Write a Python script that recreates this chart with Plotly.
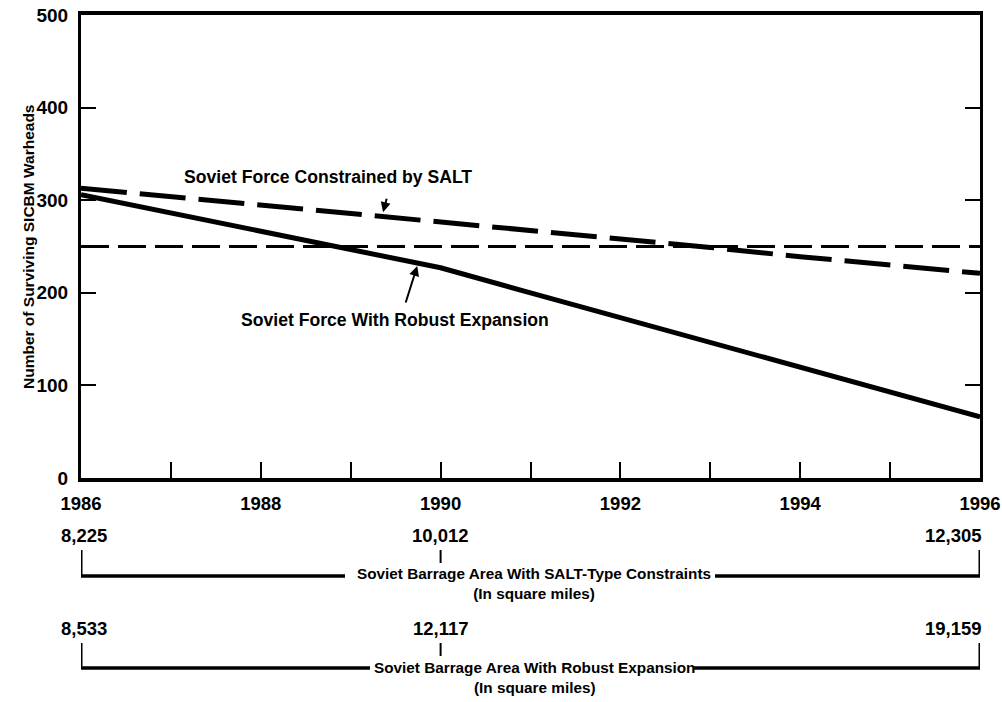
import plotly.graph_objects as go

# ---------------- data ----------------
years = [1986, 1987, 1988, 1989, 1990, 1991, 1992, 1993, 1994, 1995, 1996]
salt_force = [313, 304, 295, 285, 276, 267, 258, 249, 239, 230, 221]
robust_force = [306, 286, 267, 247, 227, 200, 173, 147, 120, 93, 66]
threshold = 250

x_tick_years = list(range(1986, 1997))
x_tick_labels = [str(y) if y % 2 == 0 else "" for y in x_tick_years]
y_tick_vals = [0, 100, 200, 300, 400, 500]

area_years = [1986, 1990, 1996]
salt_area = [8225, 10012, 12305]
robust_area = [8533, 12117, 19159]

label_salt = "Soviet Force Constrained by SALT"
label_robust = "Soviet Force With Robust Expansion"
area_label_salt = "Soviet Barrage Area With SALT-Type Constraints"
area_label_robust = "Soviet Barrage Area With Robust Expansion"
unit_label = "(In square miles)"
y_title = "Number of Surviving SICBM Warheads"

# ---------------- style ----------------
FONT = "Liberation Sans, Arial, Helvetica, sans-serif"
INK = "#000000"

W, H = 1002, 702
L, R, T, B = 81, 22, 15, 224
PLOT_H = H - T - B


def py(pix):
    """pixel row -> paper y"""
    return (H - B - pix) / PLOT_H


def px(pix):
    return (pix - L) / (W - L - R)


def year_at(pix):
    return 1986 + (pix - L) / (W - L - R) * 10


def bold(size):
    return dict(family=FONT, size=size, color=INK, weight="bold")


fig = go.Figure()

fig.add_trace(go.Scatter(
    x=[years[0], years[-1]], y=[threshold, threshold], mode="lines",
    line=dict(color=INK, width=3, dash="28px,9px"), hoverinfo="skip", showlegend=False))
fig.add_trace(go.Scatter(
    x=years, y=salt_force, mode="lines",
    line=dict(color=INK, width=5, dash="46px,13px"), showlegend=False))
fig.add_trace(go.Scatter(
    x=years, y=robust_force, mode="lines",
    line=dict(color=INK, width=5), showlegend=False))

annotations = []
# line labels
annotations.append(dict(x=1988.75, y=325, xref="x", yref="y", text=label_salt,
                        showarrow=False, font=bold(17.6)))
annotations.append(dict(x=1989.49, y=171, xref="x", yref="y", text=label_robust,
                        showarrow=False, font=bold(17.6)))
# arrows
annotations.append(dict(x=1989.36, y=287, xref="x", yref="y", text="", showarrow=True,
                        ax=4, ay=-15, arrowhead=2, arrowsize=1, arrowwidth=2, arrowcolor=INK))
annotations.append(dict(x=1989.74, y=229, xref="x", yref="y", text="", showarrow=True,
                        ax=-12, ay=38, arrowhead=2, arrowsize=1, arrowwidth=2, arrowcolor=INK))
# y title
annotations.append(dict(x=px(18), y=250, xref="paper", yref="y", text=y_title, textangle=-90,
                        showarrow=False, font=bold(15.5)))

shapes = []


def bracket(values, row_num, row_top, row_bot, mid_bot, text_row, label, gap_l, gap_r):
    for i, (yr, v) in enumerate(zip(area_years, values)):
        anchor = "center"
        xshift = 0
        if i == 0:
            xshift = 3
        if i == len(values) - 1:
            anchor = "right"
            xshift = 4
        annotations.append(dict(x=yr, y=py(row_num), xref="x", yref="paper", text=f"{v:,}",
                                xanchor=anchor, yanchor="middle", xshift=xshift, showarrow=False,
                                font=bold(18.5)))
    # verticals
    for yr, bottom, wdt in [(area_years[0], row_bot, 3), (area_years[-1], row_bot, 3),
                            (area_years[1], mid_bot, 2)]:
        shapes.append(dict(type="line", xref="x", yref="paper", x0=yr, x1=yr,
                           y0=py(row_top), y1=py(bottom), line=dict(color=INK, width=wdt)))
    # horizontals
    shapes.append(dict(type="line", xref="x", yref="paper", x0=area_years[0], x1=gap_l,
                       y0=py(row_bot), y1=py(row_bot), line=dict(color=INK, width=3.5)))
    shapes.append(dict(type="line", xref="x", yref="paper", x0=gap_r, x1=area_years[-1],
                       y0=py(row_bot), y1=py(row_bot), line=dict(color=INK, width=3.5)))
    annotations.append(dict(x=px(534), y=py(text_row), xref="paper", yref="paper",
                            text=label + "<br>" + unit_label,
                            showarrow=False, yanchor="middle", align="center",
                            font=bold(15.3)))


bracket(salt_area, 535, 550, 576, 563, 583, area_label_salt, year_at(345), year_at(715))
bracket(robust_area, 628, 643, 668, 656, 677, area_label_robust, year_at(370), year_at(693))

fig.update_layout(
    width=W, height=H,
    margin=dict(l=L, r=R, t=T, b=B, autoexpand=False),
    paper_bgcolor="white", plot_bgcolor="white",
    font=dict(family=FONT, color=INK, weight="bold"),
    showlegend=False,
    hovermode=False,
    annotations=annotations,
    shapes=shapes,
    xaxis=dict(range=[1986, 1996], tickvals=x_tick_years, ticktext=x_tick_labels,
               ticks="inside", ticklen=16, tickwidth=2, tickcolor=INK,
               showline=True, linecolor=INK, linewidth=4, mirror=True,
               showgrid=False, zeroline=False, ticklabeloverflow="allow",
               ticklabelstandoff=6, automargin=False,
               tickfont=bold(18.5)),
    yaxis=dict(range=[0, 500], tickvals=y_tick_vals, ticks="inside", ticklen=15, tickwidth=2,
               tickcolor=INK, showline=True, linecolor=INK, linewidth=3, mirror="ticks",
               showgrid=False, zeroline=False, ticklabelstandoff=6, automargin=False,
               tickfont=bold(19)),
)

fig.write_html(
    "out.html",
    config={"displayModeBar": False, "staticPlot": True},
    post_script="document.body.style.margin='0';document.body.style.padding='0';"
                "document.body.style.overflow='hidden';",
)
